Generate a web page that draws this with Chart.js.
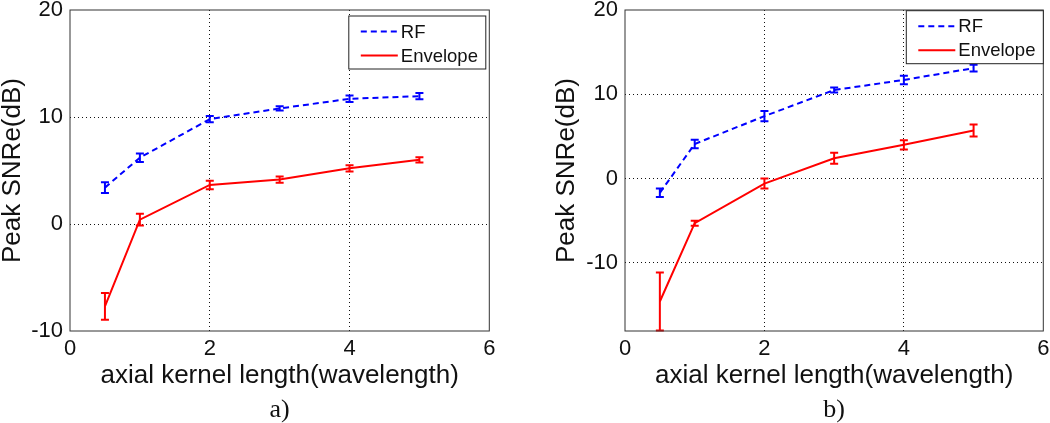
<!DOCTYPE html>
<html><head><meta charset="utf-8">
<script src="https://cdn.jsdelivr.net/npm/chart.js@4.4.1/dist/chart.umd.min.js"></script>
<style>
html,body{margin:0;padding:0;background:#fff;width:1050px;height:423px;overflow:hidden}
.c{position:absolute;top:0;height:423px}
#wa{left:0;width:520px}
#wb{left:554px;width:496px}
</style></head><body>
<div class="c" id="wa"><canvas id="ca"></canvas></div>
<div class="c" id="wb"><canvas id="cb"></canvas></div>
<script>
// ---- data ----
const kernelLengths = [0.5, 1, 2, 3, 4, 5];
const rfA     = [3.4, 6.2, 9.8, 10.8, 11.7, 11.95];
const rfErrA  = [0.5, 0.4, 0.3, 0.2, 0.3, 0.3];
const envA    = [-7.7, 0.4, 3.65, 4.15, 5.2, 6.0];
const envErrA = [1.25, 0.55, 0.4, 0.3, 0.3, 0.25];
const rfB     = [-1.7, 4.1, 7.4, 10.5, 11.7, 13.1];
const rfErrB  = [0.5, 0.5, 0.6, 0.3, 0.5, 0.4];
const envB    = [-14.6, -5.3, -0.6, 2.4, 4.0, 5.7];
const envErrB = [3.45, 0.3, 0.6, 0.65, 0.55, 0.7];
const xTicks  = [0, 2, 4, 6];
const yTicks  = [-10, 0, 10, 20];
const seriesNames = ['RF', 'Envelope'];
const panelLabels = ['a)', 'b)'];
const xTitle = 'axial kernel length(wavelength)';
const yTitle = 'Peak SNRe(dB)';

const SANS = '"Liberation Sans", Arial, sans-serif';
const SERIF = '"Liberation Serif", "Times New Roman", serif';

const errorBars = {
  id: 'errorBars',
  afterDatasetsDraw(chart) {
    const {ctx, chartArea: a, scales: {x, y}} = chart;
    ctx.save();
    ctx.beginPath();
    ctx.rect(a.left, a.top - 1, a.right - a.left, a.bottom - a.top + 2);
    ctx.clip();
    chart.data.datasets.forEach(ds => {
      ctx.strokeStyle = ds.borderColor;
      ctx.lineWidth = 2;
      ctx.setLineDash([]);
      ds.data.forEach((p, i) => {
        const e = ds.errors[i];
        const px = x.getPixelForValue(p.x);
        const t = y.getPixelForValue(p.y + e);
        const b = y.getPixelForValue(p.y - e);
        ctx.beginPath();
        ctx.moveTo(px, t); ctx.lineTo(px, b);
        ctx.moveTo(px - 4, t); ctx.lineTo(px + 4, t);
        ctx.moveTo(px - 4, b); ctx.lineTo(px + 4, b);
        ctx.stroke();
      });
    });
    ctx.restore();
  },
  afterDraw(chart) {
    const {ctx, chartArea: a} = chart;
    const o = chart.options.plugins.boxLegend;
    ctx.save();
    // axes box
    ctx.strokeStyle = '#333';
    ctx.lineWidth = 1;
    ctx.setLineDash([]);
    ctx.strokeRect(a.left, a.top, a.right - a.left, a.bottom - a.top);
    // legend box
    const w = 137, h = 53;
    const bx = a.right - o.rightGap - w, by = a.top + o.topGap;
    ctx.fillStyle = '#fff';
    ctx.fillRect(bx, by, w, h);
    ctx.strokeStyle = '#222';
    ctx.strokeRect(bx, by, w, h);
    const rows = [15.5, 39.5];
    chart.data.datasets.forEach((ds, i) => {
      const yy = by + rows[i];
      ctx.strokeStyle = ds.borderColor;
      ctx.lineWidth = 2;
      ctx.setLineDash(ds.borderDash || []);
      ctx.beginPath();
      ctx.moveTo(bx + 12, yy); ctx.lineTo(bx + 49, yy);
      ctx.stroke();
      ctx.setLineDash([]);
      ctx.fillStyle = '#111';
      ctx.font = '18.5px ' + SANS;
      ctx.textBaseline = 'middle';
      ctx.textAlign = 'left';
      ctx.fillText(ds.label, bx + 52, yy + 1);
    });
    ctx.restore();
  }
};

function gridColor(c) {
  const v = c.tick ? c.tick.value : null;
  const s = c.scale;
  if (v === s.min || v === s.max) return 'rgba(0,0,0,0)';
  return '#111';
}

function makeChart(id, rf, rfErr, env, envErr, yMin, yPad, legendPos, label, padRight) {
  return new Chart(document.getElementById(id), {
    type: 'line',
    data: {
      datasets: [
        {label: seriesNames[0], data: kernelLengths.map((x, i) => ({x, y: rf[i]})), errors: rfErr,
         borderColor: '#0000ff', borderWidth: 2, borderDash: [6, 4], pointRadius: 0, fill: false, tension: 0},
        {label: seriesNames[1], data: kernelLengths.map((x, i) => ({x, y: env[i]})), errors: envErr,
         borderColor: '#ff0000', borderWidth: 2, pointRadius: 0, fill: false, tension: 0}
      ]
    },
    options: {
      responsive: true, maintainAspectRatio: false, animation: false,
      layout: {padding: {top: 10, right: padRight, bottom: 0, left: 0}},
      plugins: {
        legend: {display: false}, tooltip: {enabled: false},
        title: {display: true, text: label, position: 'bottom', fullSize: false, color: '#111',
                font: {family: SERIF, size: 26, weight: 'normal', lineHeight: 1.0}, padding: 0},
        boxLegend: legendPos
      },
      scales: {
        x: {
          type: 'linear', min: 0, max: 6,
          afterBuildTicks: s => { s.ticks = xTicks.map(v => ({value: v})); },
          afterFit: s => { s.height = 66; s.paddingLeft = 0; s.paddingRight = 0; },
          ticks: {color: '#111', font: {family: SANS, size: 22, lineHeight: 1.0}, padding: 7, maxRotation: 0, autoSkip: false},
          grid: {drawTicks: false, color: gridColor, lineWidth: 1},
          border: {display: false, dash: [1, 3]},
          title: {display: true, text: xTitle, color: '#111', font: {family: SANS, size: 26, lineHeight: 1.2}, padding: {top: 0, bottom: 6}}
        },
        y: {
          type: 'linear', min: yMin, max: 20,
          afterBuildTicks: s => { s.ticks = yTicks.map(v => ({value: v})); },
          afterFit: s => { s.width = 70 + (yPad || 0); s.paddingTop = 0; s.paddingBottom = 0; },
          ticks: {color: '#111', font: {family: SANS, size: 22, lineHeight: 1.0}, padding: 7, autoSkip: false},
          grid: {drawTicks: false, color: gridColor, lineWidth: 1},
          border: {display: false, dash: [1, 3]},
          title: {display: true, text: yTitle, color: '#111', font: {family: SANS, size: 26, lineHeight: 1.0}, padding: 0}
        }
      }
    },
    plugins: [errorBars]
  });
}

makeChart('ca', rfA, rfErrA, envA, envErrA, -10, 0, {rightGap: 3.5, topGap: 6}, panelLabels[0], 30.7);
makeChart('cb', rfB, rfErrB, envB, envErrB, -18.1, 1, {rightGap: 0, topGap: 0.7}, panelLabels[1], 6.7);
</script>
</body></html>
